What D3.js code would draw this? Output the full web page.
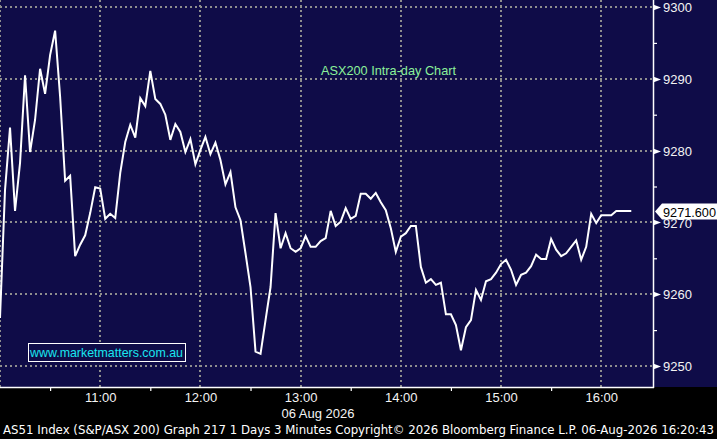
<!DOCTYPE html>
<html><head><meta charset="utf-8">
<script src="https://cdn.jsdelivr.net/npm/d3@7"></script>
<style>
html,body{margin:0;padding:0;background:#000;overflow:hidden}
svg{display:block}
</style></head><body>
<svg id="chart" width="717" height="439"></svg>
<script>
// ---------------- data ----------------
const title = "ASX200 Intra-day Chart";
const watermark = "www.marketmatters.com.au";
const footer = "AS51 Index (S&P/ASX 200) Graph 217 1 Days 3 Minutes Copyright\u00A9 2026 Bloomberg Finance L.P. 06-Aug-2026 16:20:43";
const dateLabel = "06 Aug 2026";
const lastPriceLabel = "9271.600";
const sessionDate = [2026, 7, 6];          // 06 Aug 2026
const sessionStart = "10:00";
const sessionEndAxis = "16:31";
const intervalMinutes = 3;
const prices = [
  9256.7, 9274.5, 9283.2, 9271.6, 9278.3, 9290.5, 9279.8, 9284.3, 9291.4, 9287.9,
  9293.3, 9296.7, 9287.5, 9275.8, 9276.5, 9265.3, 9266.9, 9268.2, 9271.3, 9274.9,
  9274.7, 9270.5, 9271.2, 9270.6, 9276.9, 9281.2, 9283.6, 9281.8, 9287.3, 9286.2,
  9291.1, 9287.2, 9286.5, 9285.0, 9281.5, 9283.7, 9282.6, 9279.8, 9281.6, 9278.1,
  9280.1, 9281.9, 9279.5, 9281.1, 9278.7, 9275.3, 9277.0, 9272.1, 9270.3, 9265.7,
  9261.0, 9252.0, 9251.7, 9256.4, 9261.0, 9271.3, 9266.4, 9268.5, 9266.4, 9265.9,
  9266.4, 9268.1, 9266.6, 9266.6, 9267.4, 9267.8, 9271.6, 9269.5, 9270.1, 9272.0,
  9270.5, 9270.9, 9274.0, 9274.0, 9273.3, 9274.1, 9272.8, 9271.7, 9269.2, 9265.9,
  9268.0, 9268.5, 9269.5, 9269.5, 9263.8, 9261.6, 9262.1, 9261.3, 9261.6, 9257.2,
  9257.2, 9255.7, 9252.2, 9255.4, 9256.4, 9260.6, 9259.2, 9261.8, 9262.1, 9263.0,
  9264.2, 9264.8, 9263.4, 9261.3, 9262.7, 9263.0, 9263.9, 9265.5, 9264.9, 9264.9,
  9267.7, 9266.2, 9265.3, 9265.7, 9266.6, 9267.5, 9264.8, 9266.6, 9271.2, 9269.9,
  9271.0, 9271.0, 9271.0, 9271.6, 9271.6, 9271.6, 9271.6
];
const yTickValues = [9250, 9260, 9270, 9280, 9290, 9300];
const yMinorTickValues = [9255, 9265, 9275, 9285, 9295];
const xHourTicks = ["11:00", "12:00", "13:00", "14:00", "15:00", "16:00"];
const xGridTicks = ["10:00", "11:00", "12:00", "13:00", "14:00", "15:00", "16:00"];
const xHalfHourTicks = ["10:30", "11:30", "12:30", "13:30", "14:30", "15:30"];

// ---------------- helpers ----------------
function at(hm) {
  const [h, m] = hm.split(":").map(Number);
  return new Date(sessionDate[0], sessionDate[1], sessionDate[2], h, m);
}
const t0 = at(sessionStart);
const series = prices.map((v, i) => ({ t: new Date(+t0 + i * intervalMinutes * 60000), v }));

// ---------------- layout ----------------
const W = 717, H = 439;
const plot = { left: 0, right: 653, top: 0, bottom: 387 };
const NAVY = "#0f0c48";
const GRID = "#8e8e8e";
const LABEL_FONT = "'Liberation Sans', Arial, sans-serif";

const svg = d3.select("#chart");
const x = d3.scaleTime().domain([at(sessionStart), at(sessionEndAxis)]).range([plot.left, plot.right]);
const y = d3.scaleLinear().domain([9250, 9300]).range([366, 7]);

svg.append("rect").attr("width", W).attr("height", H).attr("fill", "#000");
svg.append("rect").attr("x", 0).attr("y", 0).attr("width", W).attr("height", plot.bottom).attr("fill", NAVY);

svg.append("clipPath").attr("id", "plotclip").append("rect")
  .attr("x", plot.left).attr("y", plot.top)
  .attr("width", plot.right - plot.left).attr("height", plot.bottom - plot.top);

// grid
const grid = svg.append("g").attr("clip-path", "url(#plotclip)")
  .attr("stroke", GRID).attr("stroke-width", 2).attr("stroke-dasharray", "2,3");
grid.selectAll("line.h").data(yTickValues).join("line").attr("class", "h")
  .attr("x1", plot.left).attr("x2", plot.right)
  .attr("y1", d => Math.round(y(d))).attr("y2", d => Math.round(y(d)));
grid.selectAll("line.v").data(xGridTicks.map(at)).join("line").attr("class", "v")
  .attr("y1", plot.top).attr("y2", plot.bottom)
  .attr("x1", d => Math.round(x(d))).attr("x2", d => Math.round(x(d)));

// title
svg.append("text").attr("x", 321).attr("y", 75)
  .attr("font-family", LABEL_FONT).attr("font-size", 13)
  .attr("textLength", 135).attr("lengthAdjust", "spacingAndGlyphs")
  .attr("fill", "#8cf29a").text(title);

// line
svg.append("g").attr("clip-path", "url(#plotclip)").append("path")
  .datum(series)
  .attr("fill", "none").attr("stroke", "#ffffff").attr("stroke-width", 2)
  .attr("stroke-linejoin", "miter")
  .attr("d", d3.line().x(d => x(d.t)).y(d => y(d.v)));

// watermark
svg.append("rect").attr("x", 28.5).attr("y", 343.5).attr("width", 157).attr("height", 18)
  .attr("fill", NAVY).attr("stroke", "#ffffff").attr("stroke-width", 1);
svg.append("text").attr("x", 30).attr("y", 357)
  .attr("font-family", LABEL_FONT).attr("font-size", 13)
  .attr("textLength", 153).attr("lengthAdjust", "spacingAndGlyphs")
  .attr("fill", "#19e6f0").text(watermark);

// axes lines
svg.append("line").attr("x1", plot.right + 0.5).attr("x2", plot.right + 0.5)
  .attr("y1", 0).attr("y2", plot.bottom + 1).attr("stroke", "#fff").attr("stroke-width", 1.5);
svg.append("line").attr("x1", 0).attr("x2", plot.right + 1)
  .attr("y1", plot.bottom + 0.5).attr("y2", plot.bottom + 0.5).attr("stroke", "#fff").attr("stroke-width", 1.5);

// right axis: labels via d3 axis
const yAxis = d3.axisRight(y).tickValues(yTickValues).tickSize(0).tickPadding(0).tickFormat(d3.format("d"));
const ya = svg.append("g").attr("transform", `translate(${plot.right + 10},0)`).call(yAxis);
ya.select(".domain").remove();
ya.selectAll("text").attr("font-family", LABEL_FONT).attr("font-size", 13).attr("fill", "#f4f4f4").attr("dy", "0.36em");
// triangle markers
svg.selectAll("path.ymark").data(yTickValues).join("path").attr("class", "ymark")
  .attr("d", d => { const yy = Math.round(y(d)) + 0.5; return `M${plot.right},${yy - 3}L${plot.right + 8},${yy}L${plot.right},${yy + 3}Z`; })
  .attr("fill", "#fff");
// minor ticks
const yMinor = d3.axisRight(y).tickValues(yMinorTickValues).tickSize(4).tickFormat("");
const ym = svg.append("g").attr("transform", `translate(${plot.right},0)`).call(yMinor);
ym.select(".domain").remove();
ym.selectAll("line").attr("stroke", "#fff").attr("stroke-width", 1.2);

// bottom axis
const xAxis = d3.axisBottom(x).tickValues(xHourTicks.map(at)).tickSize(0).tickPadding(0)
  .tickFormat(d3.timeFormat("%H:%M"));
const xa = svg.append("g").attr("transform", `translate(0,${plot.bottom})`).call(xAxis);
xa.select(".domain").remove();
xa.selectAll("text").attr("font-family", LABEL_FONT).attr("font-size", 13).attr("fill", "#f4f4f4")
  .attr("dy", null).attr("y", 15);
const xMinor = d3.axisBottom(x).tickValues(xHalfHourTicks.map(at)).tickSize(4).tickFormat("");
const xm = svg.append("g").attr("transform", `translate(0,${plot.bottom})`).call(xMinor);
xm.select(".domain").remove();
xm.selectAll("line").attr("stroke", "#fff").attr("stroke-width", 1.2);

svg.append("text").attr("x", 318).attr("y", 418).attr("text-anchor", "middle")
  .attr("font-family", LABEL_FONT).attr("font-size", 13).attr("fill", "#f4f4f4").text(dateLabel);

// last price tag
const lastY = Math.round(y(prices[prices.length - 1])) + 0.5;
svg.append("path")
  .attr("d", `M${plot.right + 2},${lastY}L${plot.right + 9},${lastY - 8}L${W},${lastY - 8}L${W},${lastY + 8}L${plot.right + 9},${lastY + 8}Z`)
  .attr("fill", "#fff");
svg.append("text").attr("x", plot.right + 10).attr("y", lastY + 5)
  .attr("font-family", LABEL_FONT).attr("font-size", 13).attr("fill", "#000")
  .attr("textLength", 53).attr("lengthAdjust", "spacingAndGlyphs").text(lastPriceLabel);

// footer
svg.append("text").attr("x", 3).attr("y", 434)
  .attr("font-family", "'DejaVu Sans', Tahoma, sans-serif").attr("font-size", 11.5).attr("fill", "#fff")
  .attr("textLength", 711).attr("lengthAdjust", "spacingAndGlyphs").text(footer);
</script>
</body></html>
